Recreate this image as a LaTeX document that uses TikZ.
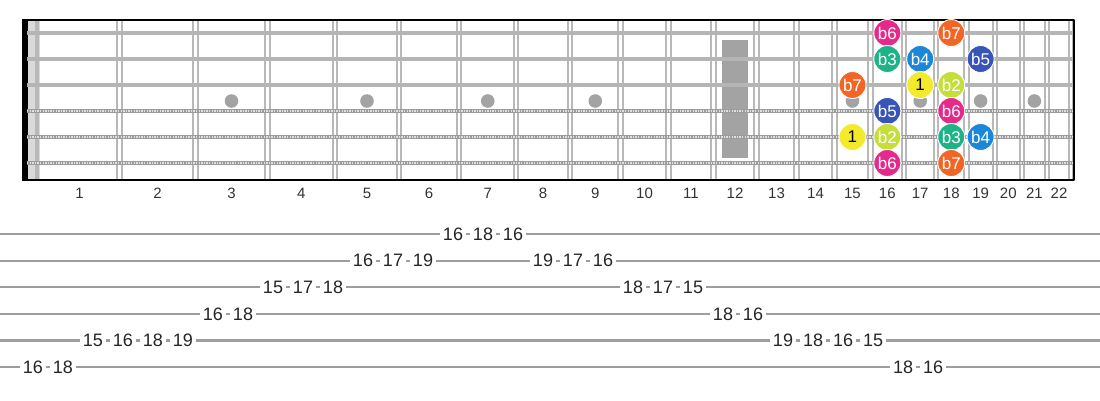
\documentclass[tikz,border=0pt]{standalone}
\usepackage{fontspec}
\setmainfont{Liberation Sans}
\definecolor{fretgray}{HTML}{B8B8B8}
\definecolor{stringgray}{HTML}{B5B5B5}
\definecolor{woundgray}{HTML}{9C9C9C}
\definecolor{inlaygray}{HTML}{A3A3A3}
\definecolor{nutgray}{HTML}{DADADA}
\definecolor{tabgray}{HTML}{9E9E9E}
\definecolor{c1}{HTML}{F3EA2C}\colorlet{t1}{black}
\definecolor{cb2}{HTML}{C6DE3A}\colorlet{tb2}{white}
\definecolor{cb3}{HTML}{1DB385}\colorlet{tb3}{white}
\definecolor{cb4}{HTML}{1C87D6}\colorlet{tb4}{white}
\definecolor{cb5}{HTML}{3854B6}\colorlet{tb5}{white}
\definecolor{cb6}{HTML}{E7298B}\colorlet{tb6}{white}
\definecolor{cb7}{HTML}{F26525}\colorlet{tb7}{white}
\begin{document}
\begin{tikzpicture}[x=1pt, y=-1pt, line join=round,
  fret/.style={fretgray, line width=2pt},
  plainstring/.style={stringgray, line width=3.4pt},
  woundstring/.style={woundgray, line width=4.6pt},
  winding/.style={white!88!black, line width=1.8pt, dash pattern=on 1.3pt off 1.3pt},
  fretnum/.style={text=black!80, font=\fontsize{15}{15}\selectfont},
  note/.style={circle, minimum size=27pt, inner sep=0pt, draw=white, line width=0.9pt,
    font=\fontsize{17}{17}\selectfont},
  tabline/.style={tabgray, line width=2.2pt},
  tabnum/.style={fill=white, inner xsep=3pt, inner ysep=1.5pt, text=black!85,
    font=\fontsize{18}{18}\selectfont}]
 \useasboundingbox (0,0) rectangle (1100,400);
 \def\nut{39.5}\def\scl{1434}
 % fretboard
 \fill[nutgray] (27,20) rectangle (40,180);
 \fill[nutgray!85!black] (35,20) rectangle (39,180);
 \fill[black] (22,20) rectangle (27.5,180);
 \foreach \n in {1,...,22}{
  \pgfmathsetmacro{\xf}{\nut+\scl*(1-pow(2,-\n/12))}
  \draw[fret] (\xf-2.2,20) -- (\xf-2.2,180) (\xf+2.2,20) -- (\xf+2.2,180);
  \pgfmathsetmacro{\xm}{\nut+\scl*(1-0.5*(pow(2,-(\n-1)/12)+pow(2,-\n/12)))}
  \node[fretnum] (f\n) at (\xm,193) {\n};
 }
 \foreach \n in {3,5,7,9,15,17,19,21}
  \fill[inlaygray] (f\n |- 0,101) circle (6.8);
 \fill[inlaygray] (722,40) rectangle (748,158);
 \foreach \y in {33,59,85}
  \draw[plainstring] (27,\y) -- (1074,\y);
 \foreach \y in {111,137,163}{
  \draw[woundstring] (27,\y) -- (1074,\y);
  \draw[winding] (27,\y) -- (1074,\y);
 }
 \draw[line width=2.4pt] (22,20) -- (1074,20) -- (1074,180) -- (22,180);
 % notes of the pattern
 \foreach \s/\f/\d in {1/16/b6, 1/18/b7, 2/16/b3, 2/17/b4, 2/19/b5, 3/15/b7, 3/17/1, 3/18/b2,
   4/16/b5, 4/18/b6, 5/15/1, 5/16/b2, 5/18/b3, 5/19/b4, 6/16/b6, 6/18/b7}
  \node[note, fill=c\d, text=t\d] (n\s-\f) at (f\f |- 0,{33+26*(\s-1)}) {\d};
 % tab
 \foreach \s in {1,...,6}
  \draw[tabline] (0,{234+26.6*(\s-1)}) -- (1100,{234+26.6*(\s-1)});
 \foreach \k/\s/\f in {0/6/16, 1/6/18, 2/5/15, 3/5/16, 4/5/18, 5/5/19, 6/4/16, 7/4/18,
   8/3/15, 9/3/17, 10/3/18, 11/2/16, 12/2/17, 13/2/19, 14/1/16, 15/1/18, 16/1/16,
   17/2/19, 18/2/17, 19/2/16, 20/3/18, 21/3/17, 22/3/15, 23/4/18, 24/4/16,
   25/5/19, 26/5/18, 27/5/16, 28/5/15, 29/6/18, 30/6/16}
  \node[tabnum] (t\k) at ({33+30*\k},{234+26.6*(\s-1)}) {\f};
\end{tikzpicture}
\end{document}
